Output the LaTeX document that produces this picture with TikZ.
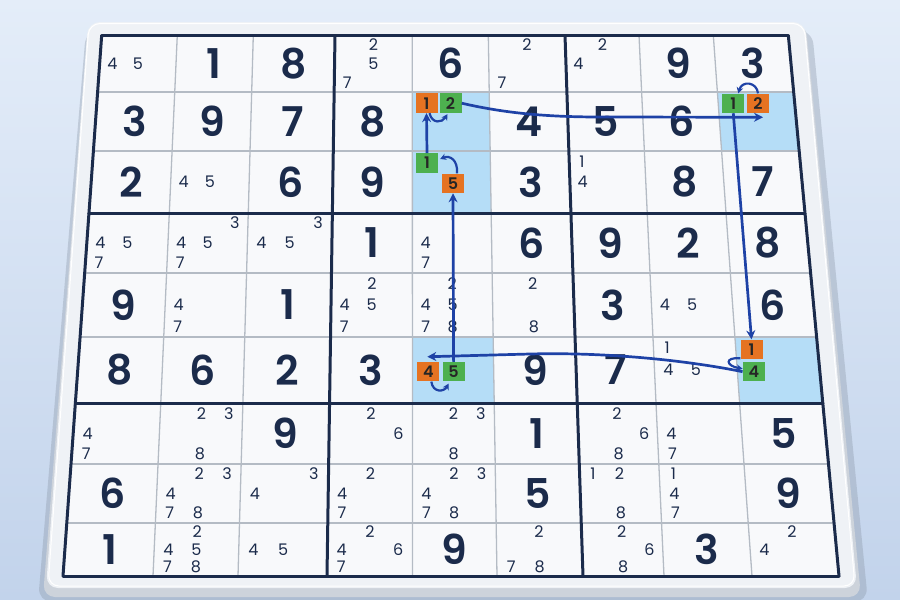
\documentclass[tikz,border=0pt]{standalone}
\usepackage{fontspec}
\setmainfont{Poppins}
\newfontfamily\digf{Poppins SemiBold}
\usetikzlibrary{arrows.meta,calc}
\definecolor{navy}{HTML}{1B2B4B}
\definecolor{thinc}{HTML}{B4BBC4}
\definecolor{arr}{HTML}{1E42A6}
\definecolor{hl}{HTML}{B5DDF7}
\definecolor{chipO}{HTML}{E57322}
\definecolor{chipG}{HTML}{4DB04F}
\definecolor{bgtop}{HTML}{E4EDF9}
\definecolor{bgbot}{HTML}{C2D3EB}
\definecolor{plate}{HTML}{EFF2F6}
\definecolor{plateedge}{HTML}{CDD3DB}
\definecolor{cellbg}{HTML}{F8F9FB}

\def\XT{{101.7,177.3,253.3,335,412.3,488.3,565,639,713.3,788.3}}
\def\XB{{63,153,238,327,412.5,497,583,664,752,839}}
\def\YY{{35,92,151,213,273,337,403,464,523,576}}

\newcommand\gp[4]{%
 \pgfmathtruncatemacro\ri{#1-1}%
 \pgfmathtruncatemacro\ci{#2-1}%
 \pgfmathsetmacro\ya{\YY[\ri]}%
 \pgfmathsetmacro\yb{\YY[#1]}%
 \pgfmathsetmacro\py{\ya+(#4)*(\yb-\ya)}%
 \pgfmathsetmacro\tq{(\py-35)/541}%
 \pgfmathsetmacro\xl{\XT[\ci]+(\XB[\ci]-\XT[\ci])*\tq}%
 \pgfmathsetmacro\xr{\XT[#2]+(\XB[#2]-\XT[#2])*\tq}%
 \pgfmathsetmacro\px{\xl+(#3)*(\xr-\xl)}%
}
\newcommand\bigd[3]{\gp{#1}{#2}{0.5}{0.5}\node[bigdig] (d#1#2) at (\px,\py) {#3};}
\newcommand\pen[3]{\foreach \p in {#3}{%
 \pgfmathtruncatemacro\sr{(\p-1)/3}%
 \pgfmathtruncatemacro\sc{\p-1-3*\sr}%
 \gp{#1}{#2}{(\sc+0.5)/3}{(\sr+0.5)/3}%
 \node[pencil] (p#1#2\p) at (\px,\py) {\p};}}
\newcommand\hlcell[2]{%
 \gp{#1}{#2}{0}{0}\coordinate (htl) at (\px,\py);
 \gp{#1}{#2}{1}{0}\coordinate (htr) at (\px,\py);
 \gp{#1}{#2}{1}{1}\coordinate (hbr) at (\px,\py);
 \gp{#1}{#2}{0}{1}\coordinate (hbl) at (\px,\py);
 \fill[hl] (htl) -- (htr) -- (hbr) -- (hbl) -- cycle;}

\tikzset{
 bigdig/.style={font=\digf\fontsize{41}{41}\selectfont, text=navy, inner sep=0pt},
 pencil/.style={font=\fontsize{16}{16}\selectfont, text=navy, inner sep=0pt},
 chip/.style={minimum width=22pt, minimum height=19.5pt, inner sep=0pt, font=\digf\fontsize{16}{16}\selectfont, text=black!85},
 arrow/.style={draw=arr, line width=2.7pt, -{Stealth[length=9pt,width=9pt]}},
 sarrow/.style={draw=arr, line width=2.2pt, -{Stealth[length=6pt,width=6.5pt]}},
 thinl/.style={draw=thinc, line width=1.3pt},
 thickl/.style={draw=navy, line width=3pt}
}

\begin{document}
\begin{tikzpicture}[x=1pt,y=-1pt]
\useasboundingbox (0,0) rectangle (900,600);
\shade[top color=bgtop, bottom color=bgbot] (0,0) rectangle (900,600);
% plate shadow, edge, face
\fill[bgbot!70!black, opacity=0.35, rounded corners=14pt] (86,30) -- (812,30) -- (868,602) -- (38,602) -- cycle;
\fill[plateedge, rounded corners=12pt] (88,24) -- (806,24) -- (861,597) -- (43,597) -- cycle;
\fill[plate, rounded corners=12pt] (88,22) -- (805,22) -- (857,588) -- (46,588) -- cycle;
\draw[white, line width=1pt, rounded corners=11pt] (89,23.5) -- (804,23.5) -- (855,586) -- (48,586) -- cycle;
% grid background
\fill[cellbg] (101.7,35) -- (788.3,35) -- (839,576) -- (63,576) -- cycle;
% highlights
\hlcell{2}{5}\hlcell{3}{5}\hlcell{2}{9}\hlcell{6}{5}\hlcell{6}{9}
% thin lines
\foreach \i in {1,2,4,5,7,8}{
  \pgfmathsetmacro\xa{\XT[\i]}\pgfmathsetmacro\xb{\XB[\i]}
  \draw[thinl] (\xa,35) -- (\xb,576);
  \pgfmathsetmacro\yy{\YY[\i]}\pgfmathsetmacro\tq{(\yy-35)/541}
  \pgfmathsetmacro\xo{101.7+(63-101.7)*\tq}\pgfmathsetmacro\xn{788.3+(839-788.3)*\tq}
  \draw[thinl] (\xo,\yy) -- (\xn,\yy);
}
% thick lines
\foreach \i in {0,3,6,9}{
  \pgfmathsetmacro\xa{\XT[\i]}\pgfmathsetmacro\xb{\XB[\i]}
  \draw[thickl] (\xa,35) -- (\xb,576);
  \pgfmathsetmacro\yy{\YY[\i]}\pgfmathsetmacro\tq{(\yy-35)/541}
  \pgfmathsetmacro\xo{101.7+(63-101.7)*\tq}\pgfmathsetmacro\xn{788.3+(839-788.3)*\tq}
  \draw[thickl, line cap=round] (\xo,\yy) -- (\xn,\yy);
}
% row 1
\pen{1}{1}{4,5}\bigd{1}{2}{1}\bigd{1}{3}{8}\pen{1}{4}{2,5,7}\bigd{1}{5}{6}\pen{1}{6}{2,7}\pen{1}{7}{2,4}\bigd{1}{8}{9}\bigd{1}{9}{3}
% row 2
\bigd{2}{1}{3}\bigd{2}{2}{9}\bigd{2}{3}{7}\bigd{2}{4}{8}\bigd{2}{6}{4}\bigd{2}{7}{5}\bigd{2}{8}{6}
% row 3
\bigd{3}{1}{2}\pen{3}{2}{4,5}\bigd{3}{3}{6}\bigd{3}{4}{9}\bigd{3}{6}{3}\pen{3}{7}{1,4}\bigd{3}{8}{8}\bigd{3}{9}{7}
% row 4
\pen{4}{1}{4,5,7}\pen{4}{2}{3,4,5,7}\pen{4}{3}{3,4,5}\bigd{4}{4}{1}\pen{4}{5}{4,7}\bigd{4}{6}{6}\bigd{4}{7}{9}\bigd{4}{8}{2}\bigd{4}{9}{8}
% row 5
\bigd{5}{1}{9}\pen{5}{2}{4,7}\bigd{5}{3}{1}\pen{5}{4}{2,4,5,7}\pen{5}{5}{2,4,5,7,8}\pen{5}{6}{2,8}\bigd{5}{7}{3}\pen{5}{8}{4,5}\bigd{5}{9}{6}
% row 6
\bigd{6}{1}{8}\bigd{6}{2}{6}\bigd{6}{3}{2}\bigd{6}{4}{3}\bigd{6}{6}{9}\bigd{6}{7}{7}\pen{6}{8}{1,4,5}
% row 7
\pen{7}{1}{4,7}\pen{7}{2}{2,3,8}\bigd{7}{3}{9}\pen{7}{4}{2,6}\pen{7}{5}{2,3,8}\bigd{7}{6}{1}\pen{7}{7}{2,6,8}\pen{7}{8}{4,7}\bigd{7}{9}{5}
% row 8
\bigd{8}{1}{6}\pen{8}{2}{2,3,4,7,8}\pen{8}{3}{3,4}\pen{8}{4}{2,4,7}\pen{8}{5}{2,3,4,7,8}\bigd{8}{6}{5}\pen{8}{7}{1,2,8}\pen{8}{8}{1,4,7}\bigd{8}{9}{9}
% row 9
\bigd{9}{1}{1}\pen{9}{2}{2,4,5,7,8}\pen{9}{3}{4,5}\pen{9}{4}{2,4,6,7}\bigd{9}{5}{9}\pen{9}{6}{2,7,8}\pen{9}{7}{2,6,8}\bigd{9}{8}{3}\pen{9}{9}{2,4}
% chips
\node[chip, fill=chipO] (o25) at (426.5,103.2) {1};
\node[chip, fill=chipG] (g25) at (450.5,103.2) {2};
\node[chip, fill=chipG] (g35) at (427,163) {1};
\node[chip, fill=chipO] (o35) at (453,183.3) {5};
\node[chip, fill=chipG] (g29) at (733.3,103.3) {1};
\node[chip, fill=chipO] (o29) at (758,103.3) {2};
\node[chip, fill=chipO] (o65) at (428.3,371.7) {4};
\node[chip, fill=chipG] (g65) at (453.6,371.7) {5};
\node[chip, fill=chipO] (o69) at (751.5,349.3) {1};
\node[chip, fill=chipG] (g69) at (753.8,371.7) {4};
\coordinate (e65) at ($(o65.north)+(-1,-5)$);
\coordinate (e29) at ($(o29.south)+(5,4)$);
% arrows
\draw[arrow] (g65.north) -- (o35.south);
\draw[arrow] (g69.west) .. controls (690,361) and (610,352) .. (530,354) -- (e65);
\draw[sarrow] ($(o35.north)+(4,0)$) .. controls (458,160) and (450,155) .. ($(g35.east)+(2,-4)$);
\draw[arrow] (g35.north) -- (o25.south);
\draw[sarrow] ($(o25.south)+(3,0)$) .. controls (432,124) and (442,123) .. ($(g25.south)+(-3,1)$);
\draw[arrow] (g25.east) .. controls (500,112) and (540,117) .. (600,117) -- (e29);
\draw[sarrow] (o29.north) .. controls (757,82) and (742,80) .. ($(g29.north)+(5,0)$);
\draw[arrow] (g29.south) -- (o69.north);
\draw[sarrow] ($(o69.south west)+(0,-1)$) .. controls (724,357) and (726,366) .. ($(g69.west)+(0,-3)$);
\draw[sarrow] ($(o65.south)+(3,0)$) .. controls (433,393) and (444,392) .. ($(g65.south)+(-5,2)$);
\end{tikzpicture}
\end{document}
